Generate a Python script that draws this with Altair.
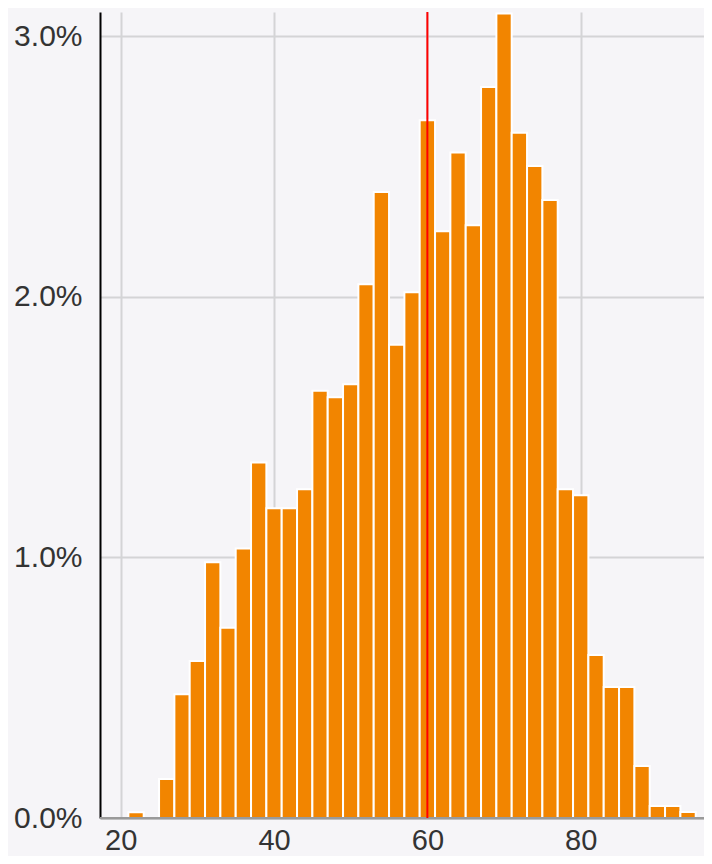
import altair as alt
import pandas as pd

# bin centres (bin width 2) and share of observations in each bin (percent)
bin_centers = [22, 24, 26, 28, 30, 32, 34, 36, 38, 40, 42, 44, 46, 48, 50, 52, 54, 56, 58,
               60, 62, 64, 66, 68, 70, 72, 74, 76, 78, 80, 82, 84, 86, 88, 90, 92, 94]
shares_pct = [0.022, 0.0, 0.150, 0.475, 0.603, 0.982, 0.730, 1.035, 1.365, 1.189, 1.189,
              1.262, 1.640, 1.615, 1.665, 2.049, 2.403, 1.817, 2.018, 2.678, 2.252, 2.555,
              2.275, 2.806, 3.088, 2.630, 2.503, 2.372, 1.262, 1.239, 0.626, 0.503, 0.503,
              0.200, 0.046, 0.046, 0.023]
bin_width = 2
marker_value = [60]
x_ticks = [20, 40, 60, 80]
y_ticks = [0.0, 0.01, 0.02, 0.03]

df = pd.DataFrame({
    "start": [c - bin_width / 2 for c in bin_centers],
    "end": [c + bin_width / 2 for c in bin_centers],
    "share": [v / 100 for v in shares_pct],
})
df = df[df["share"] > 0]
marker = pd.DataFrame({"x": marker_value})

FONT = "Liberation Sans"

x_scale = alt.Scale(domain=[17.3, 96.08], nice=False, zero=False, padding=0)
y_scale = alt.Scale(domain=[0, 0.03094], nice=False, padding=0)

bars = alt.Chart(df).mark_bar(
    color="#f28500", stroke="white", strokeWidth=2
).encode(
    x=alt.X("start:Q", scale=x_scale,
            axis=alt.Axis(values=x_ticks, title=None, format="d",
                          grid=True, gridColor="#d4d4d6", gridWidth=2,
                          domainColor="#9a9a9a", domainWidth=2,
                          ticks=False, tickSize=0, labelPadding=8,
                          labelFont=FONT, labelFontSize=29, labelColor="#333333")),
    x2="end:Q",
    y=alt.Y("share:Q", scale=y_scale,
            axis=alt.Axis(values=y_ticks, title=None, format=".1%",
                          grid=True, gridColor="#d4d4d6", gridWidth=2,
                          domainColor="#000000", domainWidth=2,
                          ticks=False, tickSize=0, labelPadding=18,
                          labelFont=FONT, labelFontSize=30, labelColor="#333333")),
    y2=alt.datum(0),
)

baseline = alt.Chart(marker).mark_rule(color="#9a9a9a", strokeWidth=2).encode(
    y=alt.datum(0, scale=y_scale)
)

rule = alt.Chart(marker).mark_rule(color="#ff0000", strokeWidth=2).encode(
    x=alt.X("x:Q", scale=x_scale)
)

chart = alt.layer(bars, baseline, rule).properties(
    width=604,
    height=806,
    autosize=alt.AutoSizeParams(type="none"),
    padding={"left": 92, "top": 4, "right": 0, "bottom": 38},
    background="#f6f5f8",
).configure_view(stroke=None)

chart.save("out.html", embed_options={"renderer": "svg", "actions": False})
